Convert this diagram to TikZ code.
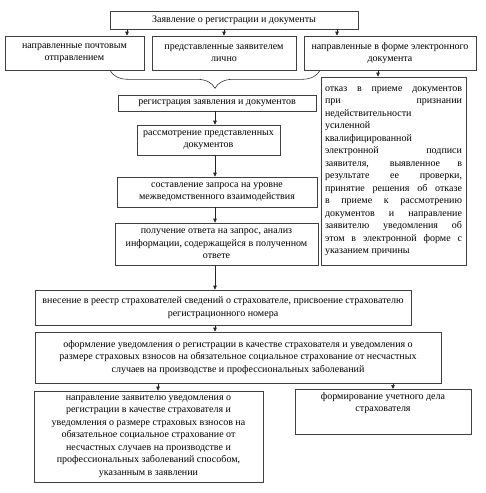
\documentclass[tikz,border=0pt]{standalone}
\usepackage{fontspec}
\setmainfont{Liberation Serif}
\usepackage{tikz}
\usetikzlibrary{arrows.meta}
\usetikzlibrary{decorations.pathreplacing}
\tikzset{
  blok/.style={draw=black!75, line width=0.6pt, align=center, inner sep=3pt,
    font=\fontsize{10}{12.5}\selectfont},
  strel/.style={-{Triangle[length=4pt,width=3.5pt]}, line width=0.6pt, draw=black!85},
}
\newlength{\shirina}
\setlength{\shirina}{137pt}
\newcommand{\jstroka}[1]{\makebox[\shirina][s]{\spaceskip=0pt\relax #1}\\}

\begin{document}
\begin{tikzpicture}[x=1pt,y=-1pt]
\useasboundingbox (0,0) rectangle (486,493);
\node[blok, minimum width=248pt, minimum height=18pt] (zayav) at (234,20) {Заявление о регистрации и документы};
\node[blok, minimum width=139pt, minimum height=34pt] (post) at (74.5,53) {направленные почтовым\\ отправлением};
\node[blok, minimum width=144pt, minimum height=34pt] (lichno) at (224,53) {представленные заявителем\\ лично};
\node[blok, minimum width=172pt, minimum height=34pt] (elektr) at (390,53) {направленные в форме электронного\\ документа};
\node[blok, align=justify, text width=\shirina, minimum height=188pt, inner sep=4pt] (otkaz) at (393.5,171) {%
\jstroka{отказ в приеме документов}
\jstroka{при признании}
недействительности\\
усиленной\\
квалифицированной\\
\jstroka{электронной подписи}
\jstroka{заявителя, выявленное в}
\jstroka{результате ее проверки,}
\jstroka{принятие решения об отказе}
\jstroka{в приеме к рассмотрению}
\jstroka{документов и направление}
\jstroka{заявителю уведомления об}
\jstroka{этом в электронной форме с}
указанием причины};
\node[blok, minimum width=198pt, minimum height=16pt] (reg) at (217,103) {регистрация заявления и документов};
\node[blok, minimum width=143pt, minimum height=30pt] (rassm) at (208.5,140) {рассмотрение представленных\\ документов};
\node[blok, minimum width=200pt, minimum height=30pt] (zapros) at (217,192) {составление запроса на уровне\\ межведомственного взаимодействия};
\node[blok, minimum width=203pt, minimum height=42pt] (otvet) at (216.5,244) {получение ответа на запрос, анализ\\ информации, содержащейся в полученном\\ ответе};
\node[blok, minimum width=376pt, minimum height=35pt] (reestr) at (223,307.5) {внесение в реестр страхователей сведений о страхователе, присвоение страхователю\\ регистрационного номера};
\node[blok, minimum width=406pt, minimum height=51pt] (uved) at (238,357.5) {оформление уведомления о регистрации в качестве страхователя и уведомления о\\ размере страховых взносов на обязательное социальное страхование от несчастных\\ случаев на производстве и профессиональных заболеваний};
\node[blok, minimum width=229pt, minimum height=91pt] (napr) at (148.5,436.5) {направление заявителю уведомления о\\ регистрации в качестве страхователя и\\ уведомления о размере страховых взносов на\\ обязательное социальное страхование от\\ несчастных случаев на производстве и\\ профессиональных заболеваний способом,\\ указанным в заявлении};
\node[blok, minimum width=176pt, text depth=20pt, anchor=north] (delo) at (383,389) {формирование учетного дела\\ страхователя};
% stvoly strelok
\coordinate (s1) at (127,0);
\coordinate (s2) at (224,0);
\coordinate (s3) at (337,0);
\coordinate (s4) at (378,0);
\coordinate (s5) at (215,0);
\coordinate (s6) at (158,0);
\coordinate (s7) at (393,0);
\coordinate (b1) at (110,0);
\coordinate (b2) at (320,0);
\draw[strel] (s1 |- zayav.south) -- (s1 |- post.north);
\draw[strel] (s2 |- zayav.south) -- (s2 |- lichno.north);
\draw[strel] (s3 |- zayav.south) -- (s3 |- elektr.north);
\draw[strel] (s4 |- elektr.south) -- (s4 |- otkaz.north);
\draw[line width=0.6pt, draw=black!80, decorate, decoration={brace, mirror, amplitude=18pt}] (b1 |- post.south) -- (b2 |- elektr.south);
\draw[strel] (s5 |- reg.south) -- (s5 |- rassm.north);
\draw[strel] (s5 |- rassm.south) -- (s5 |- zapros.north);
\draw[strel] (s5 |- zapros.south) -- (s5 |- otvet.north);
\draw[strel] (s5 |- otvet.south) -- (s5 |- reestr.north);
\draw[strel] (s5 |- reestr.south) -- (s5 |- uved.north);
\draw[strel] (s6 |- uved.south) -- (s6 |- napr.north);
\draw[strel] (s7 |- uved.south) -- (s7 |- delo.north);
\end{tikzpicture}
\end{document}
